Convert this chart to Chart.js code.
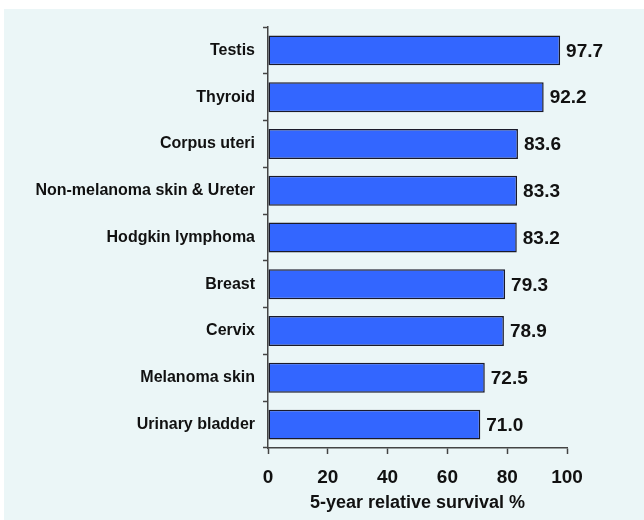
<html lang="en">
<head>
  <meta charset="UTF-8">
  <title>5-year relative survival</title>
  <script src="https://cdn.jsdelivr.net/npm/chart.js"></script>
  <style>
    body {
      margin: 0;
      background: #ffffff;
    }
    #wrap {
      position: absolute;
      left: 4px;
      top: 9px;
      width: 640px;
      height: 511px;
      background: #ebf6f7;
    }
  </style>
</head>
<body>
  <div id="wrap">
    <canvas id="survival-chart" width="640" height="511"></canvas>
  </div>

  <script>
    const categories = ['Testis', 'Thyroid', 'Corpus uteri', 'Non-melanoma skin & Ureter', 'Hodgkin lymphoma',
      'Breast', 'Cervix', 'Melanoma skin', 'Urinary bladder'];
    const survival = [97.7, 92.2, 83.6, 83.3, 83.2, 79.3, 78.9, 72.5, 71.0];
    const xTicks = [0, 20, 40, 60, 80, 100];

    const fontFamily = '"Liberation Sans", Arial, sans-serif';

    // etiquetas de valor a la derecha de cada barra
    const valueLabels = {
      id: 'valueLabels',
      afterDatasetsDraw(chart) {
        const ctx = chart.ctx;
        const meta = chart.getDatasetMeta(0);
        ctx.save();
        ctx.font = 'bold 19px ' + fontFamily;
        ctx.fillStyle = '#111111';
        ctx.textAlign = 'left';
        ctx.textBaseline = 'middle';
        meta.data.forEach((bar, i) => {
          ctx.fillText(survival[i].toFixed(1), bar.x + 6, bar.y + 1);
        });
        ctx.restore();
      }
    };

    const ctx = document.getElementById('survival-chart').getContext('2d');
    const survivalChart = new Chart(ctx, {
      type: 'bar',
      data: {
        labels: categories,
        datasets: [{
          data: survival,
          backgroundColor: '#3366ff',
          borderColor: '#1a1a2a',
          borderWidth: 1.5,
          borderSkipped: false,
          barPercentage: 0.64,
          categoryPercentage: 1
        }]
      },
      options: {
        indexAxis: 'y',
        responsive: false,
        animation: false,
        layout: {
          padding: { top: 18, right: 77, bottom: 0, left: 0 }
        },
        plugins: {
          legend: { display: false },
          tooltip: { enabled: false }
        },
        scales: {
          x: {
            min: 0,
            max: 100,
            afterBuildTicks(axis) {
              axis.ticks = xTicks.map(v => ({ value: v }));
            },
            afterFit(axis) {
              axis.height = 72;
            },
            grid: {
              drawOnChartArea: false,
              drawTicks: true,
              tickLength: 6,
              tickWidth: 1.5,
              tickColor: '#444444'
            },
            border: {
              display: true,
              color: '#444444',
              width: 1.5
            },
            ticks: {
              padding: 12,
              color: '#111111',
              font: { family: fontFamily, size: 19, weight: 'bold' }
            },
            title: {
              display: true,
              text: '5-year relative survival %',
              color: '#111111',
              padding: { top: 6, bottom: 6 },
              font: { family: fontFamily, size: 18, weight: 'bold' }
            }
          },
          y: {
            afterFit(axis) {
              axis.width = 264;
            },
            grid: {
              offset: true,
              drawOnChartArea: false,
              drawTicks: true,
              tickLength: 5,
              tickWidth: 1.5,
              tickColor: '#444444'
            },
            border: {
              display: true,
              color: '#444444',
              width: 1.5
            },
            ticks: {
              padding: 8,
              color: '#111111',
              font: { family: fontFamily, size: 16, weight: 'bold' }
            }
          }
        }
      },
      plugins: [valueLabels]
    });
  </script>
</body>
</html>
